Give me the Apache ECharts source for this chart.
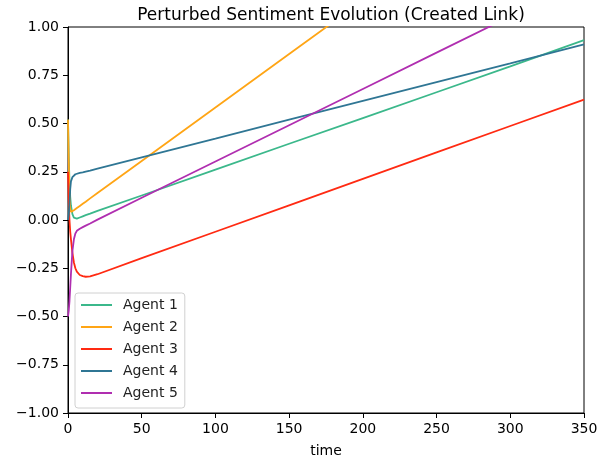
<!DOCTYPE html>
<html>
<head>
<meta charset="utf-8">
<script src="https://cdn.jsdelivr.net/npm/echarts@6/dist/echarts.min.js"></script>
<style>html,body{margin:0;padding:0;background:#fff;}#c{width:616px;height:466px;}</style>
</head>
<body>
<div id="c"></div>
<script>
const time   = [0, 0.5, 1, 1.5, 2, 3, 4, 5, 6, 8, 10, 12, 15, 20, 50, 100, 150, 200, 250, 300, 350];
const agent1 = [0.52, 0.33, 0.20, 0.12, 0.075, 0.03, 0.012, 0.006, 0.007, 0.013, 0.019, 0.025, 0.033, 0.047, 0.127, 0.261, 0.395, 0.528, 0.662, 0.796, 0.932];
const agent2 = [0.52, 0.30, 0.14, 0.06, 0.042, 0.046, 0.051, 0.057, 0.062, 0.073, 0.084, 0.095, 0.112, 0.14, 0.306, 0.583, 0.86, 1.137, 1.414, 1.691, 1.968];
const agent3 = [0.25, 0.10, 0.0, -0.06, -0.10, -0.17, -0.22, -0.25, -0.268, -0.285, -0.291, -0.294, -0.292, -0.281, -0.198, -0.061, 0.076, 0.213, 0.35, 0.487, 0.624];
const agent4 = [0.0, 0.03, 0.08, 0.16, 0.20, 0.222, 0.232, 0.237, 0.240, 0.244, 0.247, 0.251, 0.256, 0.266, 0.325, 0.422, 0.520, 0.617, 0.715, 0.812, 0.910];
const agent5 = [-0.50, -0.47, -0.42, -0.35, -0.28, -0.16, -0.10, -0.07, -0.056, -0.045, -0.037, -0.029, -0.018, 0.002, 0.115, 0.303, 0.491, 0.679, 0.867, 1.055, 1.243];
const names  = ['Agent 1', 'Agent 2', 'Agent 3', 'Agent 4', 'Agent 5'];
const colors = ['#3bb88b', '#ffa515', '#ff2a12', '#2f7694', '#b02eb0'];
const xTicks = [0, 50, 100, 150, 200, 250, 300, 350];
const yTicks = [-1, -0.75, -0.5, -0.25, 0, 0.25, 0.5, 0.75, 1];

const agents = [agent1, agent2, agent3, agent4, agent5];
const fmtY = v => (v < 0 ? '\u2212' : '') + Math.abs(v).toFixed(2);
const font = 'DejaVu Sans';

const chart = echarts.init(document.getElementById('c'));
chart.setOption({
  animation: false,
  title: {
    text: 'Perturbed Sentiment Evolution (Created Link)',
    left: 326, top: 2, textAlign: 'center',
    textStyle: {fontFamily: font, fontSize: 17, fontWeight: 'normal', color: '#000'}
  },
  grid: {left: 68, right: 32, top: 27, bottom: 53, show: true, borderColor: '#000', borderWidth: 1, backgroundColor: 'transparent'},
  legend: {
    orient: 'vertical', left: 75, top: 293,
    data: names,
    icon: 'rect', itemWidth: 31, itemHeight: 2, itemGap: 6,
    padding: [4, 7, 7, 6],
    borderColor: '#d0d0d0', borderWidth: 1, borderRadius: 3,
    backgroundColor: 'rgba(255,255,255,0.8)',
    textStyle: {fontFamily: font, fontSize: 14, lineHeight: 16, color: '#222', padding: [0, 0, 0, 6]}
  },
  xAxis: {
    type: 'value', min: xTicks[0], max: xTicks[xTicks.length - 1], interval: 50,
    name: 'time', nameLocation: 'middle', nameGap: 31,
    nameTextStyle: {fontFamily: font, fontSize: 14, color: '#000'},
    axisLine: {show: true, onZero: false, lineStyle: {color: '#000', width: 1}},
    axisTick: {show: true, inside: false, length: 5, lineStyle: {color: '#000'}},
    axisLabel: {fontFamily: font, fontSize: 14, color: '#000', margin: 9},
    splitLine: {show: false}
  },
  yAxis: {
    type: 'value', min: yTicks[0], max: yTicks[yTicks.length - 1], interval: 0.25,
    axisLine: {show: true, onZero: false, lineStyle: {color: '#000', width: 1}},
    axisTick: {show: true, inside: false, length: 5, lineStyle: {color: '#000'}},
    axisLabel: {fontFamily: font, fontSize: 14, color: '#000', margin: 9, formatter: fmtY},
    splitLine: {show: false}
  },
  series: agents.map((a, k) => ({
    name: names[k], type: 'line', showSymbol: false, symbol: 'none', clip: true,
    color: colors[k],
    lineStyle: {width: 1.8, color: colors[k]},
    data: time.map((t, i) => [t, a[i]])
  }))
});
</script>
</body>
</html>
